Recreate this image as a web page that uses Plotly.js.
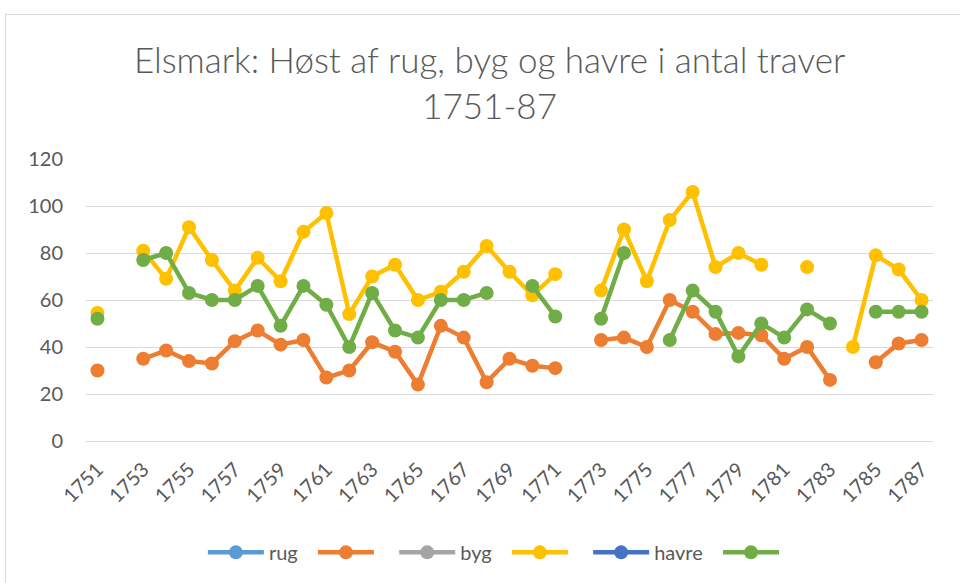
<!DOCTYPE html>
<html>
<head>
<meta charset="utf-8">
<script src="https://cdn.plot.ly/plotly-3.0.1.min.js"></script>
<style>
  html, body { margin: 0; padding: 0; background: #fff; overflow: hidden; }
  #frame { position: absolute; left: 5px; top: 14px; width: 1000px; height: 620px;
           border: 1px solid #d9d9d9; pointer-events: none; }
  #chart { position: absolute; left: 0; top: 0; width: 960px; height: 583px; }
</style>
</head>
<body>
<div id="chart"></div>
<div id="frame"></div>
<script>
// år 1751-1787
const years = [];
for (let y = 1751; y <= 1787; y++) years.push(y);
const tickYears = years.filter((y, i) => i % 2 === 0);

// høst i traver (null = ingen oplysning)
const rug = [30, null, 35, 38.5, 34, 33, 42.5, 47, 41, 43, 27, 30, 42, 38, 24, 49, 44, 25, 35, 32, 31,
             null, 43, 44, 40, 60, 55, 45.5, 46, 45, 35, 40, 26, null, 33.5, 41.5, 43];
const byg = [54.5, null, 81, 69, 91, 77, 64, 78, 68, 89, 97, 54, 70, 75, 60, 63.5, 72, 83, 72, 62, 71,
             null, 64, 90, 68, 94, 106, 74, 80, 75, null, 74, null, 40, 79, 73, 60];
const havre = [52, null, 77, 80, 63, 60, 60, 66, 49, 66, 58, 40, 63, 47, 44, 60, 60, 63, null, 66, 53,
               null, 52, 80, null, 43, 64, 55, 36, 50, 44, 56, 50, null, 55, 55, 55];

// serierne "rug", "byg" og "havre" er tomme i originalen (kun navnet vises i forklaringen)
const emptySeries = years.map(() => null);

const seriesNames = ['rug', '', 'byg', '', 'havre', ''];
const seriesColors = ['#5B9BD5', '#ED7D31', '#A5A5A5', '#FFC000', '#4472C4', '#70AD47'];
const seriesData = [emptySeries, rug, emptySeries, byg, emptySeries, havre];

const font = 'Lato, "Open Sans", sans-serif';
const pad = '\u00A0\u00A0'; // lidt luft mellem forklaringens elementer

const traces = seriesData.map((vals, i) => ({
  x: years,
  y: vals,
  name: seriesNames[i] + pad,
  type: 'scatter',
  mode: 'lines+markers',
  connectgaps: false,
  line: { color: seriesColors[i], width: 4.5 },
  marker: { color: seriesColors[i], size: 14 },
  hoverinfo: 'x+y'
}));

const layout = {
  width: 960,
  height: 583,
  margin: { l: 86, r: 27, t: 159, b: 141 },
  paper_bgcolor: '#ffffff',
  plot_bgcolor: '#ffffff',
  title: {
    text: 'Elsmark: Høst af rug, byg og havre i antal traver<br>1751-87',
    font: { family: font, size: 35, weight: 300, color: '#595959' },
    x: 0.51, xref: 'container', xanchor: 'center',
    y: 0.874, yref: 'container', yanchor: 'middle'
  },
  xaxis: {
    range: [1750.5, 1787.5],
    tickvals: tickYears,
    ticktext: tickYears.map(String),
    tickangle: -45,
    showgrid: false,
    zeroline: false,
    showline: true,
    linecolor: '#d9d9d9',
    linewidth: 1,
    ticks: '',
    ticklabelstandoff: 8,
    tickfont: { family: font, size: 20, color: '#595959' },
    fixedrange: true
  },
  yaxis: {
    range: [0, 120],
    dtick: 20,
    showgrid: true,
    gridcolor: '#d9d9d9',
    gridwidth: 1,
    zeroline: false,
    showline: false,
    ticks: '',
    ticklabelstandoff: 22,
    tickfont: { family: font, size: 20, color: '#595959' },
    fixedrange: true
  },
  showlegend: true,
  legend: {
    orientation: 'h',
    x: 0.138, xanchor: 'left',
    y: -0.39, yanchor: 'middle',
    font: { family: font, size: 20, color: '#595959' },
    itemwidth: 56,
    tracegroupgap: 0
  }
};

Plotly.newPlot('chart', traces, layout, { displayModeBar: false, staticPlot: true });
</script>
</body>
</html>
